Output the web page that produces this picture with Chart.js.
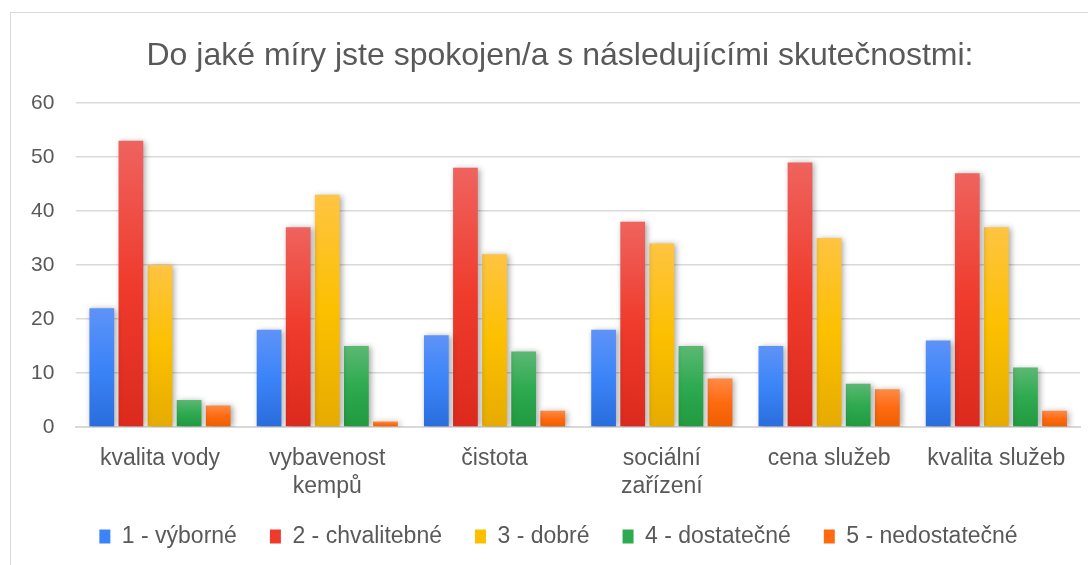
<!DOCTYPE html>
<html><head><meta charset="utf-8">
<script src="https://cdn.jsdelivr.net/npm/chart.js@4/dist/chart.umd.min.js"></script>
<style>html,body{margin:0;padding:0;background:#fff;}#wrap{position:absolute;left:0;top:0;width:1088px;height:565px;}</style>
</head><body><div id="wrap"><canvas id="c" width="1088" height="565"></canvas></div>
<script>
const categories = ['kvalita vody', ['vybavenost','kempů'], 'čistota', ['sociální','zařízení'], 'cena služeb', 'kvalita služeb'];
const seriesNames = ['1 - výborné', '2 - chvalitebné', '3 - dobré', '4 - dostatečné', '5 - nedostatečné'];
const s1 = [22, 18, 17, 18, 15, 16];
const s2 = [53, 37, 48, 38, 49, 47];
const s3 = [30, 43, 32, 34, 35, 37];
const s4 = [5, 15, 14, 15, 8, 11];
const s5 = [4, 1, 3, 9, 7, 3];
const titleText = 'Do jaké míry jste spokojen/a s následujícími skutečnostmi:';

const palettes = [
  ['#5e93f8', '#3b84f8', '#2a6ddc'],
  ['#ef635e', '#ef3b2c', '#db2a1d'],
  ['#ffc442', '#fcc000', '#e6ab00'],
  ['#5bb872', '#2eaa50', '#21993f'],
  ['#ff8a45', '#ff6a10', '#ec5f00']
];
const legendColors = ['#3b84f8', '#ef3b2c', '#fcc000', '#2eaa50', '#ff6a10'];

function grad(idx) {
  return function(ctx) {
    const chart = ctx.chart;
    const ys = chart.scales && chart.scales.y;
    if (!ys || ctx.raw === undefined) return legendColors[idx];
    const top = ys.getPixelForValue(ctx.raw);
    const bot = ys.getPixelForValue(0);
    if (!isFinite(top) || !isFinite(bot) || bot - top < 1) return legendColors[idx];
    const g = chart.ctx.createLinearGradient(0, top, 0, bot);
    const p = palettes[idx];
    g.addColorStop(0, p[0]);
    g.addColorStop(0.5, p[1]);
    g.addColorStop(1, p[2]);
    return g;
  };
}

const frame = {
  id: 'frame',
  afterLayout(chart) {
    const lg = chart.legend;
    if (lg) { lg.left += 14; lg.right += 14; }
    const xs = chart.scales.x;
    if (xs) { xs.bottom += 12; }
  },
  beforeDraw(chart) {
    const c = chart.ctx;
    c.save();
    c.fillStyle = '#fff';
    c.fillRect(0, 0, chart.width, chart.height);
    c.strokeStyle = '#d9d9d9';
    c.lineWidth = 1;
    c.strokeRect(10.5, 12.5, 1090, 560);
    c.fillStyle = '#595959';
    c.font = '32px "Liberation Sans"';
    c.textAlign = 'center';
    c.textBaseline = 'alphabetic';
    c.fillText(titleText, 560, 65);
    c.restore();
  }
};
const shadow = {
  id: 'shadow',
  beforeDatasetsDraw(chart) {
    const c = chart.ctx;
    c.save();
    c.shadowColor = 'rgba(0,0,0,0.35)';
    c.shadowBlur = 6;
    c.shadowOffsetX = 2;
    c.shadowOffsetY = 1;
  },
  afterDatasetsDraw(chart) {
    chart.ctx.restore();
  }
};

const all = [s1, s2, s3, s4, s5];
new Chart(document.getElementById('c'), {
  type: 'bar',
  data: {
    labels: categories,
    datasets: all.map((d, i) => ({
      label: seriesNames[i],
      data: d,
      backgroundColor: grad(i),
      borderWidth: 0,
      categoryPercentage: 0.87,
      barPercentage: 0.85
    }))
  },
  plugins: [frame, shadow],
  options: {
    responsive: false,
    animation: false,
    layout: { padding: { left: 9, right: 8, top: 103, bottom: 7 } },
    plugins: {
      title: { display: false },
      legend: {
        position: 'bottom',
        labels: {
          color: '#595959',
          font: { family: 'Liberation Sans', size: 23 },
          boxWidth: 11, boxHeight: 14, padding: 33,
          generateLabels(chart) {
            return seriesNames.map((n, i) => ({
              text: n, fillStyle: legendColors[i], strokeStyle: legendColors[i],
              lineWidth: 0, hidden: false, datasetIndex: i, fontColor: '#595959'
            }));
          }
        }
      },
      tooltip: { enabled: false }
    },
    scales: {
      x: {
        grid: { display: false },
        border: { color: '#d9d9d9', width: 2 },
        ticks: { color: '#595959', font: { family: 'Liberation Sans', size: 23 }, maxRotation: 0, autoSkip: false, padding: 10 },
        afterFit(scale) { scale.height = 65; }
      },
      y: {
        min: 0, max: 60,
        grid: { color: '#d9d9d9', lineWidth: 1.5, drawTicks: false },
        border: { display: false },
        ticks: { stepSize: 10, color: '#595959', font: { family: 'Liberation Sans', size: 21 }, padding: 22 }
      }
    }
  }
});
</script>
</body></html>
